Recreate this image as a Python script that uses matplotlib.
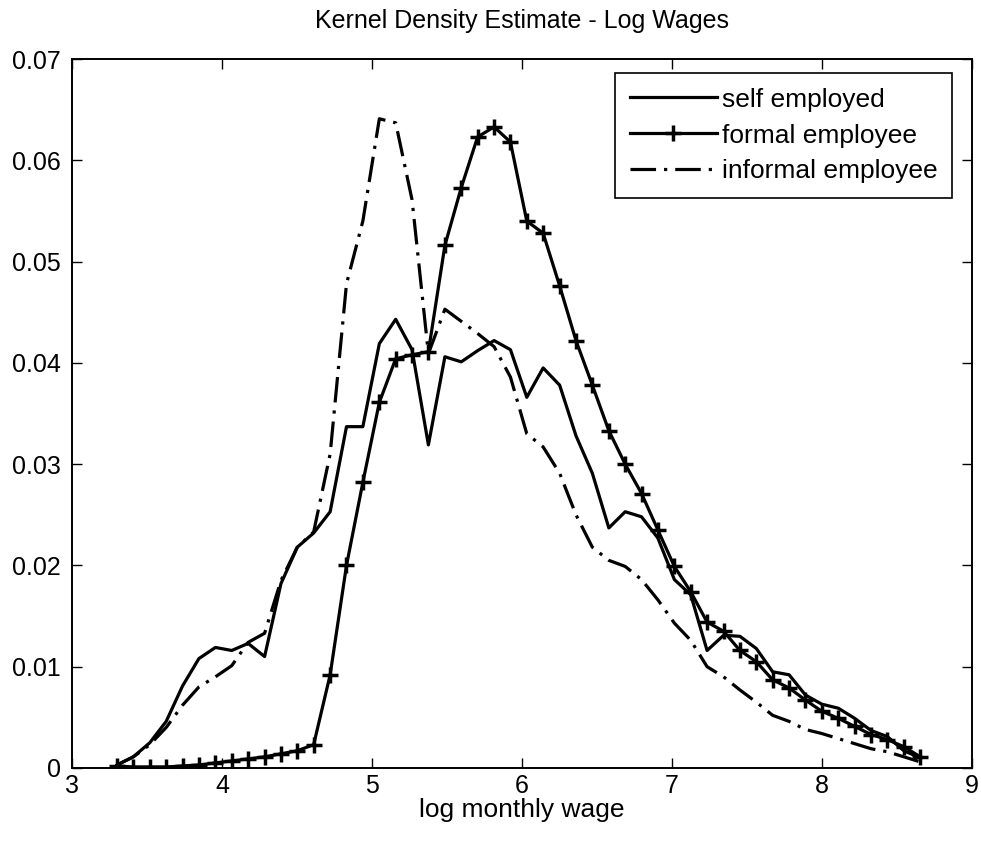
import numpy as np
from matplotlib import pyplot as plt

# evaluation grid of the kernel density (log monthly wage)
log_wage = [3.300, 3.409, 3.519, 3.628, 3.737, 3.846, 3.956, 4.065, 4.174, 4.284,
            4.393, 4.502, 4.611, 4.721, 4.830, 4.939, 5.049, 5.158, 5.267, 5.376,
            5.486, 5.595, 5.704, 5.814, 5.923, 6.032, 6.141, 6.251, 6.360, 6.469,
            6.579, 6.688, 6.797, 6.906, 7.016, 7.125, 7.234, 7.344, 7.453, 7.562,
            7.671, 7.781, 7.890, 7.999, 8.109, 8.218, 8.327, 8.436, 8.546, 8.655]

self_employed = [0.0003, 0.0011, 0.0025, 0.0046, 0.0081, 0.0108, 0.0119, 0.0116, 0.0123, 0.0110,
                 0.0182, 0.0218, 0.0232, 0.0253, 0.0337, 0.0337, 0.0419, 0.0443, 0.0413, 0.0319,
                 0.0406, 0.0401, 0.0412, 0.0422, 0.0413, 0.0366, 0.0395, 0.0378, 0.0328, 0.0291,
                 0.0237, 0.0253, 0.0248, 0.0227, 0.0186, 0.0171, 0.0116, 0.0131, 0.0130, 0.0118,
                 0.0095, 0.0092, 0.0072, 0.0063, 0.0059, 0.0049, 0.0037, 0.0031, 0.0017, 0.0010]

formal_employee = [0.0002, 0.0001, 0.0001, 0.0001, 0.0002, 0.0003, 0.0005, 0.0007, 0.0009, 0.0011,
                   0.0014, 0.0017, 0.0023, 0.0092, 0.0200, 0.0282, 0.0361, 0.0404, 0.0408, 0.0411,
                   0.0516, 0.0573, 0.0623, 0.0633, 0.0618, 0.0540, 0.0528, 0.0476, 0.0422, 0.0378,
                   0.0333, 0.0300, 0.0271, 0.0235, 0.0199, 0.0174, 0.0144, 0.0135, 0.0116, 0.0105,
                   0.0087, 0.0079, 0.0067, 0.0056, 0.0049, 0.0041, 0.0033, 0.0028, 0.0021, 0.0011]

informal_employee = [0.0003, 0.0011, 0.0023, 0.0040, 0.0062, 0.0080, 0.0090, 0.0101, 0.0124, 0.0133,
                     0.0185, 0.0218, 0.0233, 0.0310, 0.0478, 0.0540, 0.0641, 0.0637, 0.0561, 0.0409,
                     0.0453, 0.0441, 0.0429, 0.0416, 0.0386, 0.0330, 0.0317, 0.0291, 0.0250, 0.0218,
                     0.0205, 0.0199, 0.0186, 0.0166, 0.0143, 0.0126, 0.0100, 0.0090, 0.0077, 0.0065,
                     0.0052, 0.0046, 0.0038, 0.0034, 0.0029, 0.0024, 0.0019, 0.0016, 0.0011, 0.0006]

x_ticks = [3, 4, 5, 6, 7, 8, 9]
y_ticks = [0, 0.01, 0.02, 0.03, 0.04, 0.05, 0.06, 0.07]
y_tick_labels = ['0', '0.01', '0.02', '0.03', '0.04', '0.05', '0.06', '0.07']

plt.rcParams['font.family'] = ['Liberation Sans', 'DejaVu Sans']
fs = 19

fig = plt.figure(figsize=(9.81, 8.43), dpi=100)
ax = fig.add_axes([0.0734, 0.089, 0.9174, 0.841])

ax.plot(log_wage, self_employed, color='black', linewidth=2.3, label='self employed')
ax.plot(log_wage, formal_employee, color='black', linewidth=2.3, marker='+',
        markersize=11, markeredgewidth=2.5, label='formal employee')
ax.plot(log_wage, informal_employee, color='black', linewidth=2.3,
        linestyle=(0, (8, 2.5, 1, 2.5)), label='informal employee')

ax.set_xlim(3, 9)
ax.set_ylim(0, 0.07)
ax.set_xticks(x_ticks)
ax.set_yticks(y_ticks)
ax.set_yticklabels(y_tick_labels)
ax.tick_params(axis='both', direction='in', length=7, width=1, top=True, right=True,
               labelsize=18)
ax.tick_params(axis='y', pad=8)
ax.tick_params(axis='x', pad=4)
for sp in ax.spines.values():
    sp.set_linewidth(1.4)

ax.set_title('Kernel Density Estimate - Log Wages', fontsize=18, pad=22)
ax.set_xlabel('log monthly wage', fontsize=fs, labelpad=0)

leg = ax.legend(loc='upper right', bbox_to_anchor=(0.978, 0.980), borderaxespad=0,
                fontsize=fs, fancybox=False, framealpha=1, edgecolor='black',
                handlelength=3.3, handletextpad=0.2, labelspacing=0.45, borderpad=0.55)
leg.get_frame().set_linewidth(1.2)

fig.savefig('out.png', dpi=100)
